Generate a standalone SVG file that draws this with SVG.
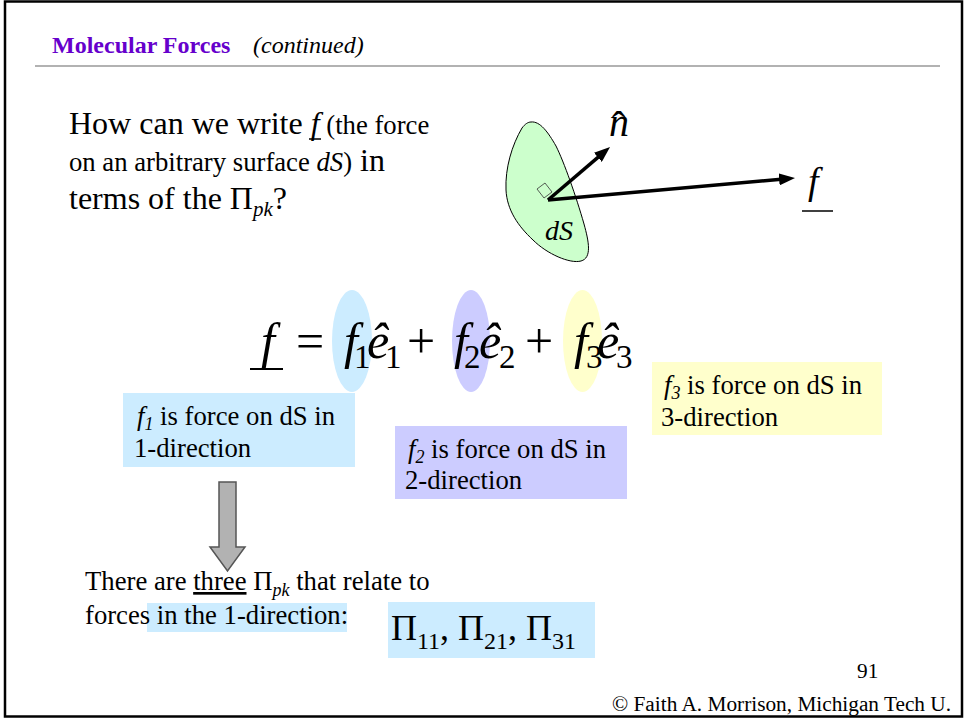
<svg xmlns="http://www.w3.org/2000/svg" width="965" height="721" viewBox="0 0 965 721">
<style>
.t{font-family:"Liberation Serif","Times New Roman",serif;fill:#000}
.i{font-style:italic}
.vec{stroke:#000;stroke-width:3.5;fill:none;marker-end:url(#ah)}
.ul{stroke:#000;stroke-width:1.5}
</style>
<defs>
<marker id="ah" markerUnits="userSpaceOnUse" markerWidth="16" markerHeight="12" viewBox="0 0 16 12" refX="2" refY="6" orient="auto">
<path d="M0,0 L16,6 L0,12 z" fill="#000"/>
</marker>
</defs>
<rect x="0" y="0" width="965" height="721" fill="#fff"/>
<rect x="5" y="1.5" width="957" height="715" fill="none" stroke="#000" stroke-width="2.5"/>

<g id="header">
<text class="t" x="52" y="53" font-size="24" font-weight="bold" style="fill:#6600CC">Molecular Forces</text>
<text class="t i" x="253" y="53" font-size="24">(continued)</text>
<line x1="35" y1="66" x2="940" y2="66" stroke="#B2B2B2" stroke-width="2"/>
</g>

<g id="question">
<text class="t" x="69" y="134" font-size="32">How can we write <tspan class="i">f</tspan><tspan font-size="26.7"> (the force</tspan></text>
<line class="ul" x1="309" y1="139" x2="321" y2="139"/>
<text class="t" x="69" y="171" font-size="26.7">on an arbitrary surface <tspan class="i">dS</tspan>)<tspan font-size="32"> in</tspan></text>
<text class="t" x="69" y="209" font-size="32">terms of the Π<tspan class="i" font-size="21" dy="7">pk</tspan><tspan dy="-7">?</tspan></text>
</g>

<g id="surface">
<path d="M531,122 C540,121 548,132 556,146 C564,162 576,196 584,224 C589,242 592,258 581,261 C570,264 547,254 533,240 C518,226 507,210 506,190 C505,168 512,145 522,128 C525,124 528,122 531,122 Z" fill="#CCFFCC" stroke="#000" stroke-width="1"/>
<polygon points="537,189 545,183 552,192 544,198" fill="none" stroke="#333" stroke-width="0.8"/>
<text class="t i" x="545" y="240" font-size="28">dS</text>
</g>

<g id="normal-label">
<text class="t i" x="609" y="136" font-size="40">n</text>
<text class="t" x="612" y="139" font-size="40">ˆ</text>
</g>

<g id="force-label">
<text class="t i" x="808" y="194" font-size="38">f</text>
<line class="ul" x1="802" y1="211" x2="833" y2="211"/>
</g>

<g id="highlights">
<ellipse cx="352" cy="341" rx="20" ry="51" fill="#CCECFF"/>
<ellipse cx="471" cy="341" rx="19" ry="51" fill="#CCCCFF"/>
<ellipse cx="582.5" cy="341" rx="19.5" ry="51" fill="#FFFFCC"/>
</g>

<g id="equation">
<text class="t i" x="261" y="358" font-size="50">f</text>
<line x1="250" y1="369" x2="283" y2="369" stroke="#000" stroke-width="2"/>
<text class="t" x="296" y="358" font-size="50">=</text>
<text class="t i" x="344" y="358" font-size="50">f</text>
<text class="t" x="354" y="368" font-size="33">1</text>
<text class="t i" x="367" y="358" font-size="50">ê</text>
<text class="t" x="385" y="368" font-size="33">1</text>
<text class="t" x="407" y="358" font-size="50">+</text>
<text class="t i" x="454" y="358" font-size="50">f</text>
<text class="t" x="464" y="368" font-size="33">2</text>
<text class="t i" x="479" y="358" font-size="50">ê</text>
<text class="t" x="499" y="368" font-size="33">2</text>
<text class="t" x="525" y="358" font-size="50">+</text>
<text class="t i" x="574" y="358" font-size="50">f</text>
<text class="t" x="586" y="368" font-size="33">3</text>
<text class="t i" x="597" y="358" font-size="50">ê</text>
<text class="t" x="616" y="368" font-size="33">3</text>
</g>

<g id="box-f1">
<rect x="123" y="393" width="232" height="74" fill="#CCECFF"/>
<text class="t" x="137" y="425" font-size="26.7"><tspan class="i">f</tspan><tspan class="i" font-size="18" dy="5">1</tspan><tspan dy="-5"> is force on dS in</tspan></text>
<text class="t" x="134" y="457" font-size="26.7">1-direction</text>
</g>

<g id="box-f2">
<rect x="395" y="426" width="232" height="73" fill="#CCCCFF"/>
<text class="t" x="408" y="458" font-size="26.7"><tspan class="i">f</tspan><tspan class="i" font-size="18" dy="5">2</tspan><tspan dy="-5"> is force on dS in</tspan></text>
<text class="t" x="405" y="489" font-size="26.7">2-direction</text>
</g>

<g id="box-f3">
<rect x="652" y="362" width="230" height="73" fill="#FFFFCC"/>
<text class="t" x="664" y="394" font-size="26.7"><tspan class="i">f</tspan><tspan class="i" font-size="18" dy="5">3</tspan><tspan dy="-5"> is force on dS in</tspan></text>
<text class="t" x="661" y="426" font-size="26.7">3-direction</text>
</g>

<g id="conclusion">
<rect x="147" y="603" width="200" height="29" fill="#CCECFF"/>
<text class="t" x="85" y="590" font-size="26.7">There are <tspan text-decoration="underline">three</tspan> Π<tspan class="i" font-size="18" dy="6">pk</tspan><tspan dy="-6"> that relate to</tspan></text>
<text class="t" x="85" y="624" font-size="26.7">forces in the 1-direction:</text>
</g>

<g id="pi-list">
<rect x="388" y="602" width="207" height="56" fill="#CCECFF"/>
<text class="t" x="391" y="640" font-size="36">Π<tspan font-size="24" dy="9">11</tspan><tspan dy="-9">, Π</tspan><tspan font-size="24" dy="9">21</tspan><tspan dy="-9">, Π</tspan><tspan font-size="24" dy="9">31</tspan></text>
</g>

<g id="footer">
<text class="t" x="857" y="678" font-size="21.3">91</text>
<text class="t" x="612" y="711" font-size="21.3">© Faith A. Morrison, Michigan Tech U.</text>
</g>

<g id="connectors">
<line class="vec" x1="548" y1="200" x2="599.4" y2="156.1"/>
<line class="vec" x1="548" y1="200" x2="781.1" y2="179.2"/>
<polygon points="219,482 236,482 236,547 245,547 227.5,571 210,547 219,547" fill="#B2B2B2" stroke="#555" stroke-width="1.5"/>
</g>
</svg>
